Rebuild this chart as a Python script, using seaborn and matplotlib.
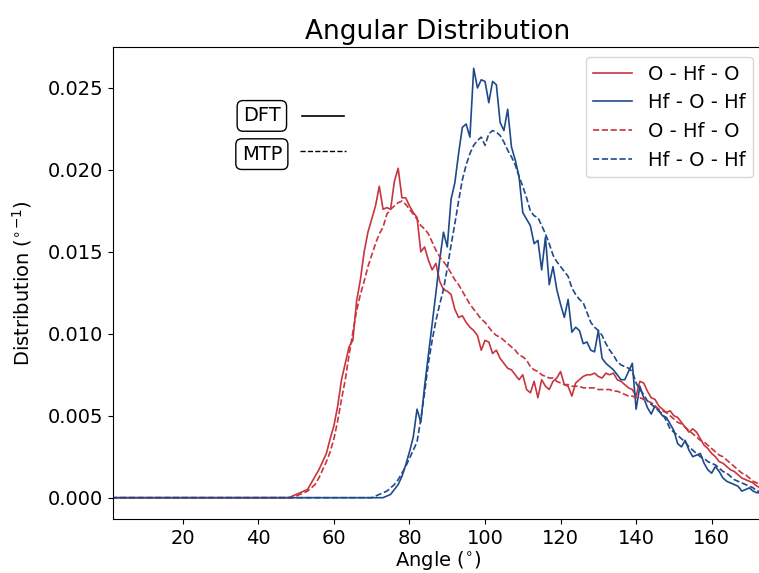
import numpy as np
import pandas as pd
import matplotlib
matplotlib.use("Agg")
import matplotlib.pyplot as plt
import seaborn as sns

# angle grid: first point at 1 deg (all zero), then 1-deg bins from 48 to 178
angle = [1] + list(range(48, 179))

dft_ohfo = [0.0,
    0.0000, 0.0001, 0.0002, 0.0003, 0.0004, 0.0005, 0.0009, 0.0013, 0.0017, 0.0022,
    0.0027, 0.0036, 0.0044, 0.0056, 0.0072, 0.0082, 0.0092, 0.0096, 0.0120, 0.0133,
    0.0150, 0.0162, 0.0170, 0.0178, 0.0190, 0.0176, 0.0177, 0.0176, 0.0193, 0.0201,
    0.0183, 0.0183, 0.0178, 0.0174, 0.0171, 0.0150, 0.0153, 0.0145, 0.0139, 0.0143,
    0.0132, 0.0127, 0.0126, 0.0124, 0.0115, 0.0110, 0.0111, 0.0107, 0.0104, 0.0102,
    0.0099, 0.0090, 0.0096, 0.0095, 0.0088, 0.0090, 0.0085, 0.0082, 0.0079, 0.0078,
    0.0075, 0.0072, 0.0075, 0.0066, 0.0064, 0.0071, 0.0061, 0.0072, 0.0068, 0.0066,
    0.0071, 0.0073, 0.0077, 0.0069, 0.0068, 0.0062, 0.0070, 0.0072, 0.0074, 0.0075,
    0.0075, 0.0076, 0.0074, 0.0073, 0.0076, 0.0075, 0.0076, 0.0072, 0.0071, 0.0069,
    0.0067, 0.0066, 0.0062, 0.0071, 0.0070, 0.0065, 0.0061, 0.0060, 0.0056, 0.0054,
    0.0052, 0.0053, 0.0050, 0.0049, 0.0046, 0.0043, 0.0040, 0.0042, 0.0040, 0.0036,
    0.0032, 0.0030, 0.0027, 0.0025, 0.0022, 0.0021, 0.0019, 0.0017, 0.0016, 0.0014,
    0.0012, 0.0011, 0.0010, 0.0009, 0.0007, 0.0006, 0.0005, 0.0004, 0.0003, 0.0003,
    0.0002]

dft_hfohf = [0.0,
    0.0000, 0.0000, 0.0000, 0.0000, 0.0000, 0.0000, 0.0000, 0.0000, 0.0000, 0.0000,
    0.0000, 0.0000, 0.0000, 0.0000, 0.0000, 0.0000, 0.0000, 0.0000, 0.0000, 0.0000,
    0.0000, 0.0000, 0.0000, 0.0000, 0.0000, 0.0000, 0.0001, 0.0002, 0.0005, 0.0008,
    0.0013, 0.0020, 0.0028, 0.0037, 0.0054, 0.0046, 0.0068, 0.0087, 0.0106, 0.0125,
    0.0145, 0.0162, 0.0153, 0.0182, 0.0192, 0.0210, 0.0226, 0.0228, 0.0220, 0.0262,
    0.0250, 0.0255, 0.0254, 0.0241, 0.0254, 0.0252, 0.0229, 0.0224, 0.0237, 0.0214,
    0.0206, 0.0196, 0.0174, 0.0170, 0.0166, 0.0155, 0.0157, 0.0139, 0.0159, 0.0130,
    0.0141, 0.0127, 0.0118, 0.0110, 0.0121, 0.0101, 0.0104, 0.0102, 0.0094, 0.0095,
    0.0090, 0.0089, 0.0102, 0.0085, 0.0082, 0.0080, 0.0078, 0.0075, 0.0072, 0.0072,
    0.0077, 0.0082, 0.0054, 0.0068, 0.0061, 0.0055, 0.0051, 0.0056, 0.0053, 0.0050,
    0.0049, 0.0045, 0.0041, 0.0033, 0.0031, 0.0035, 0.0029, 0.0025, 0.0026, 0.0027,
    0.0021, 0.0017, 0.0015, 0.0019, 0.0016, 0.0012, 0.0010, 0.0009, 0.0008, 0.0007,
    0.0004, 0.0005, 0.0006, 0.0004, 0.0003, 0.0003, 0.0002, 0.0002, 0.0001, 0.0001,
    0.0001]

mtp_ohfo = [0.0,
    0.0000, 0.0000, 0.0001, 0.0002, 0.0003, 0.0004, 0.0006, 0.0008, 0.0012, 0.0017,
    0.0022, 0.0028, 0.0036, 0.0047, 0.0060, 0.0072, 0.0087, 0.0101, 0.0114, 0.0124,
    0.0132, 0.0141, 0.0148, 0.0155, 0.0161, 0.0165, 0.0173, 0.0176, 0.0178, 0.0180,
    0.0181, 0.0179, 0.0176, 0.0173, 0.0170, 0.0166, 0.0164, 0.0161, 0.0156, 0.0151,
    0.0147, 0.0144, 0.0141, 0.0137, 0.0133, 0.0130, 0.0126, 0.0122, 0.0118, 0.0115,
    0.0112, 0.0109, 0.0107, 0.0104, 0.0101, 0.0099, 0.0098, 0.0096, 0.0094, 0.0092,
    0.0090, 0.0087, 0.0086, 0.0084, 0.0080, 0.0078, 0.0077, 0.0075, 0.0074, 0.0073,
    0.0073, 0.0071, 0.0070, 0.0069, 0.0069, 0.0068, 0.0068, 0.0068, 0.0067, 0.0067,
    0.0067, 0.0067, 0.0066, 0.0066, 0.0066, 0.0066, 0.0065, 0.0065, 0.0064, 0.0063,
    0.0062, 0.0062, 0.0061, 0.0061, 0.0060, 0.0059, 0.0058, 0.0056, 0.0054, 0.0053,
    0.0052, 0.0050, 0.0048, 0.0046, 0.0045, 0.0043, 0.0041, 0.0039, 0.0037, 0.0035,
    0.0034, 0.0032, 0.0030, 0.0028, 0.0026, 0.0025, 0.0023, 0.0021, 0.0019, 0.0017,
    0.0015, 0.0014, 0.0012, 0.0010, 0.0009, 0.0008, 0.0007, 0.0006, 0.0005, 0.0004,
    0.0003]

mtp_hfohf = [0.0,
    0.0000, 0.0000, 0.0000, 0.0000, 0.0000, 0.0000, 0.0000, 0.0000, 0.0000, 0.0000,
    0.0000, 0.0000, 0.0000, 0.0000, 0.0000, 0.0000, 0.0000, 0.0000, 0.0000, 0.0000,
    0.0000, 0.0000, 0.0000, 0.0001, 0.0002, 0.0003, 0.0004, 0.0006, 0.0008, 0.0011,
    0.0015, 0.0019, 0.0024, 0.0029, 0.0034, 0.0048, 0.0064, 0.0082, 0.0096, 0.0108,
    0.0118, 0.0127, 0.0140, 0.0154, 0.0167, 0.0181, 0.0194, 0.0203, 0.0210, 0.0215,
    0.0218, 0.0220, 0.0215, 0.0222, 0.0224, 0.0223, 0.0221, 0.0217, 0.0212, 0.0208,
    0.0203, 0.0196, 0.0190, 0.0183, 0.0175, 0.0172, 0.0171, 0.0166, 0.0161, 0.0155,
    0.0148, 0.0144, 0.0141, 0.0138, 0.0135, 0.0128, 0.0124, 0.0121, 0.0119, 0.0113,
    0.0107, 0.0104, 0.0102, 0.0099, 0.0094, 0.0090, 0.0087, 0.0083, 0.0081, 0.0080,
    0.0079, 0.0077, 0.0070, 0.0066, 0.0063, 0.0059, 0.0057, 0.0055, 0.0053, 0.0051,
    0.0047, 0.0042, 0.0040, 0.0038, 0.0036, 0.0034, 0.0031, 0.0029, 0.0027, 0.0025,
    0.0024, 0.0022, 0.0021, 0.0020, 0.0018, 0.0016, 0.0015, 0.0013, 0.0011, 0.0010,
    0.0009, 0.0008, 0.0007, 0.0006, 0.0004, 0.0004, 0.0003, 0.0003, 0.0002, 0.0002,
    0.0001]

red = "#c8353f"
blue = "#1f4a8a"

fig = plt.figure(figsize=(7.59, 5.73), dpi=100)
ax = fig.add_axes([113 / 759, 54 / 573, 650 / 759, 472 / 573])

sns.lineplot(x=angle, y=dft_ohfo, ax=ax, color=red, lw=1.2, label="O - Hf - O")
sns.lineplot(x=angle, y=dft_hfohf, ax=ax, color=blue, lw=1.2, label="Hf - O - Hf")
sns.lineplot(x=angle, y=mtp_ohfo, ax=ax, color=red, lw=1.2, ls="--", label="O - Hf - O")
sns.lineplot(x=angle, y=mtp_hfohf, ax=ax, color=blue, lw=1.2, ls="--", label="Hf - O - Hf")

ax.set_xlim(1.5, 173.6)
ax.set_ylim(-0.0013, 0.0275)
ax.set_xticks([20, 40, 60, 80, 100, 120, 140, 160])
ax.set_yticks([0.0, 0.005, 0.01, 0.015, 0.02, 0.025])
ax.set_yticklabels(["0.000", "0.005", "0.010", "0.015", "0.020", "0.025"])
ax.tick_params(labelsize=14)

ax.set_title("Angular Distribution", fontsize=19)
ax.set_xlabel(r"Angle ($^{\circ}$)", fontsize=14, labelpad=1)
ax.set_ylabel(r"Distribution ($^{\circ}$$^{-1}$)", fontsize=14, labelpad=10)

ax.legend(loc="upper right", fontsize=14)

box = dict(boxstyle="round,pad=0.3", fc="white", ec="black")
ax.text(0.229, 0.854, "DFT", transform=ax.transAxes, fontsize=14,
        ha="center", va="center", bbox=box)
ax.text(0.229, 0.773, "MTP", transform=ax.transAxes, fontsize=14,
        ha="center", va="center", bbox=box)
ax.plot([0.291, 0.355], [0.854, 0.854], transform=ax.transAxes, color="black", lw=1.2)
ax.plot([0.288, 0.358], [0.780, 0.780], transform=ax.transAxes, color="black", lw=1.0, ls="--")

fig.savefig("out.png", dpi=100)
